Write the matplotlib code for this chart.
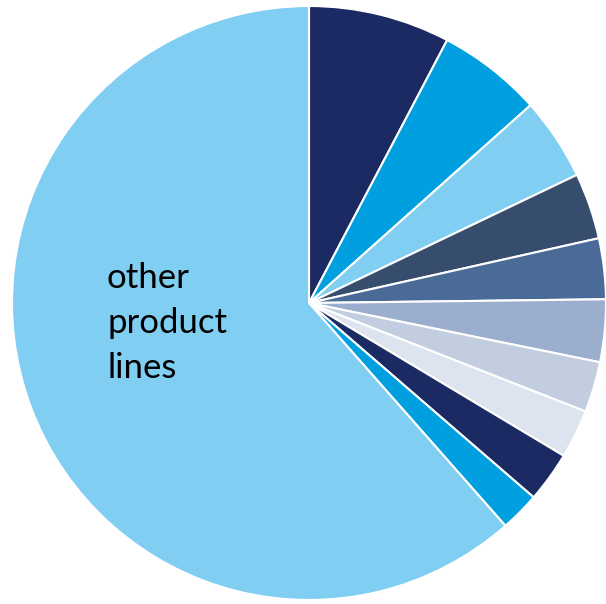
import matplotlib
matplotlib.use('Agg')
import matplotlib.pyplot as plt

# shares of revenue, clockwise from 12 o'clock
shares = [7.7, 5.7, 4.5, 3.6, 3.3, 3.4, 2.75, 2.65, 2.75, 2.15, 61.5]
colors = ['#1C2A64', '#009FE0', '#80CFF3', '#374D6E', '#4A6A98', '#9BAECD',
          '#C2CDE0', '#DDE4EF', '#1C2A64', '#009FE0', '#80CFF3']
label_text = 'other\nproduct\nlines'

fig = plt.figure(figsize=(6.06, 6.04), dpi=100)
# center of pie at (309, 303) px, radius ~297 px
r = 297
ax = fig.add_axes([(309 - r) / 606, (604 - 303 - r) / 604, 2 * r / 606, 2 * r / 604])
ax.pie(shares, colors=colors, startangle=90, counterclock=False,
       wedgeprops={'edgecolor': 'white', 'linewidth': 1.5})
ax.set_xlim(-1, 1)
ax.set_ylim(-1, 1)
ax.set_aspect('auto')
ax.axis('off')

fig.text(107 / 606, 1 - 323 / 604, label_text, fontsize=25, family='Lato',
         ha='left', va='center', linespacing=1.5, color='black')

fig.savefig('out.png', dpi=100)
